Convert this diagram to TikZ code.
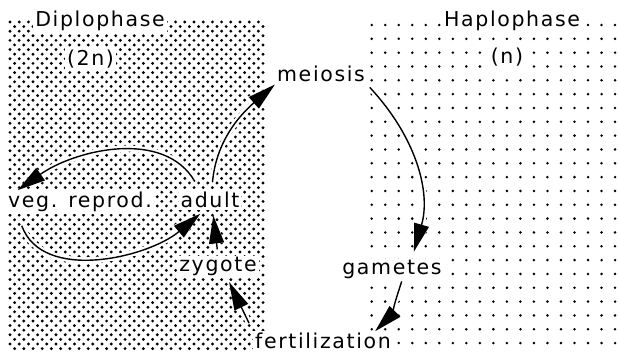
\documentclass[tikz,border=0pt]{standalone}
\usepackage{fontspec}
\newfontfamily\lettering[LetterSpace=8]{DejaVu Sans}
\usetikzlibrary{arrows.meta}
\tikzset{
  phase/.style={fill=white, inner sep=2pt, anchor=base,
    font=\lettering\fontsize{20.5}{24}\selectfont},
  cycle arrow/.style={line width=1.4pt, -{Triangle[length=28pt,width=15pt]},
    preaction={draw=white, line width=6pt}}
}
\begin{document}
\begin{tikzpicture}[x=1pt,y=1pt]
    \useasboundingbox (0,0) rectangle (618,353);

    % Diplophase: dense dots
    \foreach \j in {0,...,71} {
      \pgfmathsetmacro{\yy}{331-4.6*\j}
      \pgfmathsetmacro{\xo}{mod(\j,2)*4.6}
      \foreach \i in {0,...,27}
        \fill (10+\xo+9.2*\i,\yy) circle (1.6);
    }

    % Haplophase: sparse dots
    \foreach \i in {0,...,18}
      \foreach \k in {0,...,23}
        \fill (371.7+13.52*\i,328-13.83*\k) circle (1.4);

    % Labels
    \node[phase] (diplo) at (100,326) {Diplophase};
    \node[phase] (twon) at (90.5,287) {(2n)};
    \node[phase] (haplo) at (512,326) {Haplophase};
    \node[phase] (onen) at (507,289) {(n)};
    \node[phase] (meiosis) at (321,271) {meiosis};
    \node[phase] (veg) at (80,145) {veg. reprod.};
    \node[phase] (adult) at (210,145) {adult};
    \node[phase] (zygote) at (218,81) {zygote};
    \node[phase] (gametes) at (392,78) {gametes};
    \node[phase] (fert) at (323,4) {fertilization};

    % Life cycle
    \draw[cycle arrow, shorten <=8pt] (adult.80) to[out=85,in=221] (meiosis.south west);
    \draw[cycle arrow, shorten <=4pt, shorten >=7pt] (meiosis.south east) to[out=-47,in=74] (gametes.30);
    \draw[cycle arrow] (gametes.-50) to[out=-108,in=45] (fert.11);
    \draw[cycle arrow, shorten <=9pt, shorten >=4pt] (fert.north west) -- (zygote.-51);
    \draw[cycle arrow, shorten <=6pt, shorten >=5pt] (zygote.north) -- (adult.-75);

    % Vegetative loop
    \draw[cycle arrow, shorten <=10pt] (adult.135) to[out=120,in=35] (veg.169);
    \draw[cycle arrow, shorten <=12pt, shorten >=5pt] (veg.-169) to[out=-70,in=220] (adult.-120);
\end{tikzpicture}
\end{document}
